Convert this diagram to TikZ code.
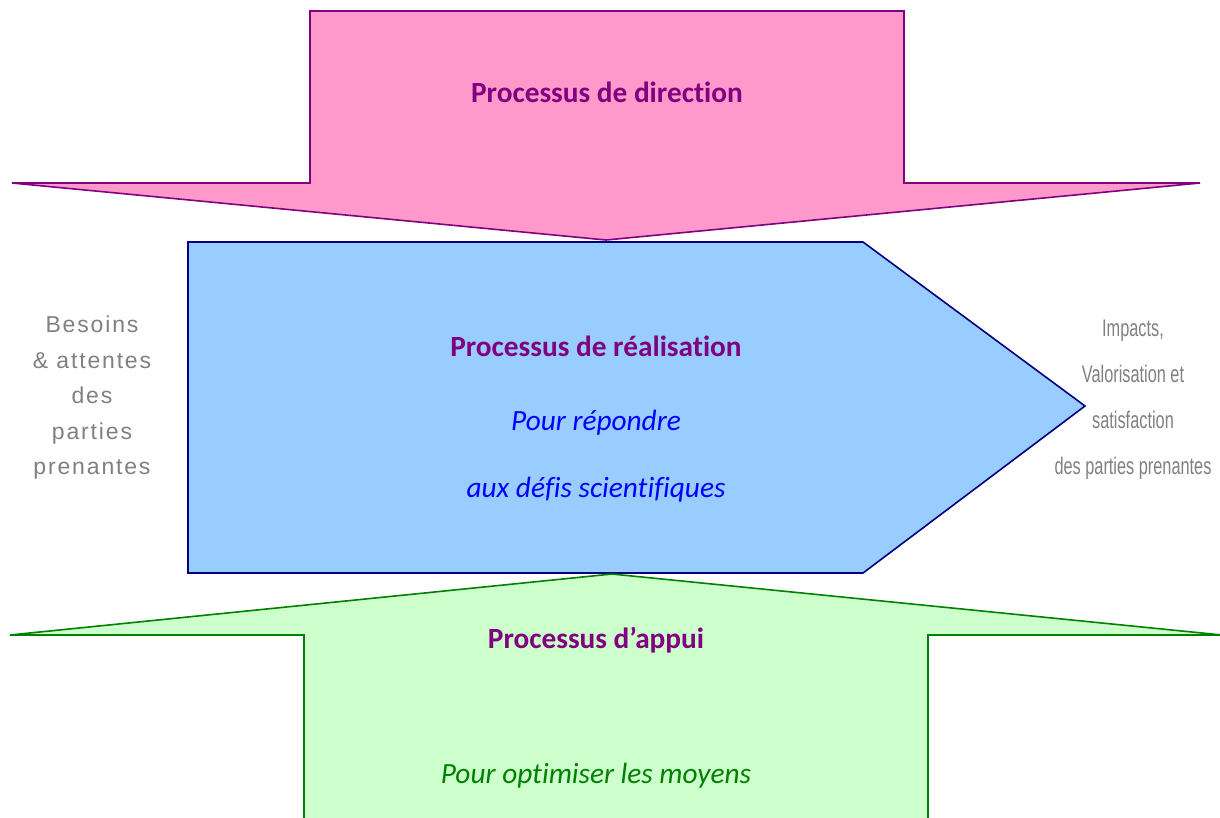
\documentclass[tikz,border=0pt]{standalone}
\usepackage{fontspec}
\setmainfont[Ligatures={NoCommon,TeX}]{Carlito}
\newfontfamily\graysans[LetterSpace=8]{Liberation Sans}
\newfontfamily\narrowsans[FakeStretch=0.68]{Liberation Sans}
\definecolor{pinkfill}{HTML}{FF99CC}
\definecolor{purpleline}{HTML}{800080}
\definecolor{bluefill}{HTML}{99CCFF}
\definecolor{navyline}{HTML}{000080}
\definecolor{greenfill}{HTML}{CCFFCC}
\definecolor{greenline}{HTML}{008000}
\definecolor{grayText}{HTML}{808080}
\definecolor{blueText}{HTML}{0000FF}
\tikzset{
  shapeline/.style={line width=1.6pt, line join=miter},
  titletext/.style={font=\fontsize{29.3}{33}\selectfont\bfseries, text=purpleline, inner sep=0pt},
  bluetext/.style={font=\fontsize{29.3}{33}\selectfont\itshape, text=blueText, inner sep=0pt},
  greentext/.style={font=\fontsize{29.3}{33}\selectfont\itshape, text=greenline, inner sep=0pt},
  leftside/.style={font=\graysans\fontsize{23}{35.5}\selectfont, text=grayText, align=center, inner sep=0pt},
  rightside/.style={font=\narrowsans\fontsize{24}{46}\selectfont, text=grayText, align=center, inner sep=0pt}
}
\begin{document}
\begin{tikzpicture}[x=1pt,y=-1pt]
\useasboundingbox (0,0) rectangle (1220,817);
\clip (0,0) rectangle (1220,817);
% realisation pentagon
\draw[shapeline, draw=navyline, fill=bluefill]
  (188,242) -- (863,242) -- (1085,406) -- (863,573) -- (188,573) -- cycle;
% direction arrow (down)
\draw[shapeline, draw=purpleline, fill=pinkfill]
  (310,11) -- (904,11) -- (904,183) -- (1200,183) -- (606,240) -- (12,183) -- (310,183) -- cycle;
% appui arrow (up)
\draw[shapeline, draw=greenline, fill=greenfill]
  (304,835) -- (304,635) -- (10,635) -- (612,574) -- (1222,635) -- (928,635) -- (928,835);
% texts
\node[titletext] (dir) at (607,92) {Processus de direction};
\node[titletext] (real) at (596,346) {Processus de réalisation};
\node[bluetext] (rep1) at (596,423) {Pour répondre};
\node[bluetext] (rep2) at (596,490) {aux défis scientifiques};
\node[titletext] (app) at (596,640) {Processus d’appui};
\node[greentext] (opt) at (596,776) {Pour optimiser les moyens};
\node[leftside] (besoins) at (92,398) {Besoins\\\& attentes\\des\\parties\\prenantes};
\node[rightside] (impacts) at (1133,400) {Impacts,\\Valorisation et\\satisfaction\\des parties prenantes};
\end{tikzpicture}
\end{document}
